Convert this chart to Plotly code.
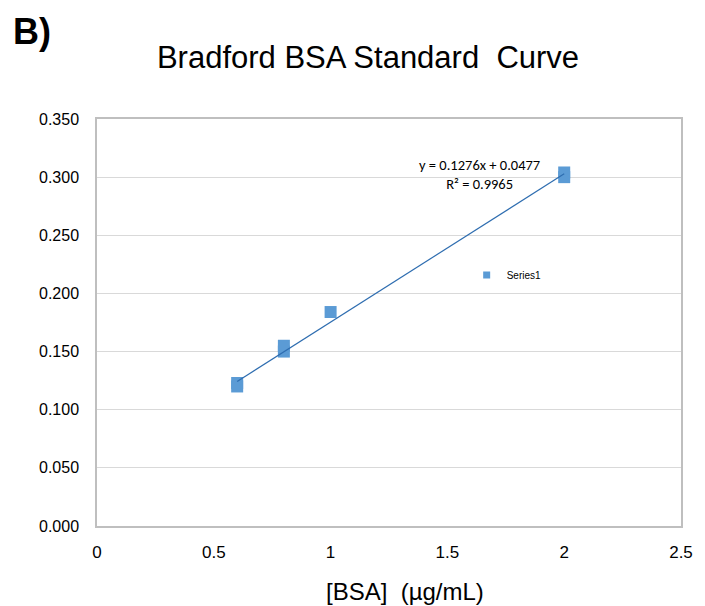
import plotly.graph_objects as go

# Data
bsa_conc = [0.6, 0.6, 0.8, 0.8, 1.0, 2.0, 2.0]
absorbance = [0.123, 0.120, 0.155, 0.150, 0.184, 0.304, 0.300]

# Linear trendline as printed on the chart
slope = 0.1276
intercept = 0.0477
r_squared = 0.9965

trend_x = [min(bsa_conc), max(bsa_conc)]
trend_y = [slope * x + intercept for x in trend_x]

x_ticks = [0, 0.5, 1, 1.5, 2, 2.5]
x_tick_labels = ["0", "0.5", "1", "1.5", "2", "2.5"]
y_ticks = [0.0, 0.05, 0.10, 0.15, 0.20, 0.25, 0.30, 0.35]

FONT = "Liberation Sans, Arial, sans-serif"

fig = go.Figure()
fig.add_trace(go.Scatter(
    x=bsa_conc, y=absorbance, mode="markers", name="Series1", showlegend=False,
    marker=dict(symbol="square", size=12, color="#5B9BD5"),
))
fig.add_trace(go.Scatter(
    x=trend_x, y=trend_y, mode="lines", showlegend=False,
    line=dict(color="#2E6DB0", width=1.2),
))
# legend entry (smaller symbol, as in the reference)
fig.add_trace(go.Scatter(
    x=[None], y=[None], mode="markers", name="Series1",
    marker=dict(symbol="square", size=7, color="#5B9BD5"),
))

fig.update_layout(
    width=705, height=606,
    margin=dict(l=97, r=17, t=119, b=80),
    paper_bgcolor="white", plot_bgcolor="white",
    font=dict(family=FONT, color="black"),
    title=dict(text="Bradford BSA Standard&nbsp; Curve", x=0.522, xanchor="center",
               xref="container", yref="container",
               y=1 - 57 / 606, yanchor="middle",
               font=dict(size=31, color="black")),
    showlegend=True,
    legend=dict(x=0.633, y=0.617, xanchor="left", yanchor="middle",
                bgcolor="rgba(0,0,0,0)", font=dict(size=10, family=FONT),
                itemwidth=30),
    xaxis=dict(range=[0, 2.5], tickvals=x_ticks, ticktext=x_tick_labels,
               showgrid=False, zeroline=False, showline=True, linecolor="#BFBFBF", linewidth=1.5,
               mirror=True, ticks="outside", ticklen=10, tickcolor="rgba(0,0,0,0)",
               tickfont=dict(size=17)),
    yaxis=dict(range=[0, 0.35], tickvals=y_ticks, tickformat=".3f",
               showgrid=True, gridcolor="#D9D9D9", gridwidth=1.3, zeroline=False,
               showline=True, linecolor="#BFBFBF", linewidth=1.5, mirror=True,
               ticks="outside", ticklen=13, tickcolor="rgba(0,0,0,0)",
               tickfont=dict(size=16)),
)

fig.add_annotation(text="[BSA]&nbsp;&nbsp;(µg/mL)", xref="paper", yref="paper",
                   x=(409 - 97) / 591, y=(526 - 591) / 407,
                   xanchor="center", yanchor="middle", showarrow=False,
                   font=dict(size=24, family=FONT, color="black"))
fig.add_annotation(text="<b>B)</b>", xref="paper", yref="paper",
                   x=(10 - 97) / 591, y=(526 - 31) / 407,
                   xanchor="left", yanchor="middle", showarrow=False,
                   font=dict(size=36, family=FONT, color="black"))
fig.add_annotation(text=f"y = {slope}x + {intercept}<br>R² = {r_squared}",
                   x=1.639, y=0.3026, xref="x", yref="y", showarrow=False,
                   xanchor="center", yanchor="middle", align="center",
                   font=dict(size=14.5, family="Carlito, Liberation Sans, sans-serif", color="black"))

fig.write_html("out.html")
